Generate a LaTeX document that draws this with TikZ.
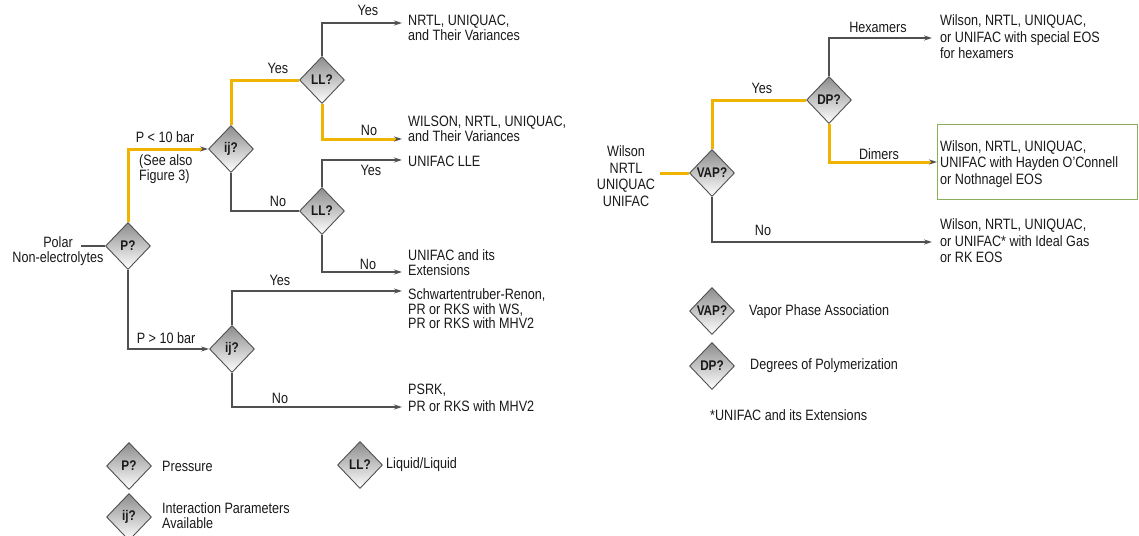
\documentclass[tikz,border=0pt]{standalone}
\usepackage{fontspec}
\setmainfont{Liberation Sans}[FakeStretch=0.84]
\usetikzlibrary{shapes.geometric,arrows.meta}
\definecolor{linegray}{RGB}{80,80,80}
\definecolor{flowyellow}{RGB}{240,180,0}
\definecolor{boxgreen}{RGB}{140,175,90}
\definecolor{txt}{RGB}{25,25,25}
\definecolor{dtop}{RGB}{140,140,140}
\begin{document}
\begin{tikzpicture}[x=1pt,y=-1pt,
  font=\fontsize{15}{15}\selectfont, text=txt,
  dec/.style={diamond, draw=linegray, line width=0.9pt, top color=dtop, bottom color=white,
    minimum width=45pt, minimum height=47pt, inner sep=0pt,
    font=\fontsize{14}{14}\selectfont\bfseries, text=txt},
  wire/.style={draw=linegray, line width=1.3pt},
  hot/.style={draw=flowyellow, line width=3pt},
  tip/.style={-{Stealth[length=8pt,width=5pt,color=linegray]}},
  lbl/.style={inner sep=0pt},
  res/.style={anchor=west, align=left, inner sep=0pt},
  tight/.style={font=\fontsize{15}{14.5}\selectfont},
  loose/.style={font=\fontsize{15}{16.5}\selectfont}]
\useasboundingbox (0,0) rectangle (1139,535);

% ---------- left tree: polar non-electrolytes ----------
\node[lbl, align=center] (src) at (58,251) {Polar\\Non-electrolytes};
\coordinate (srcend) at (81,246);
\node[dec] (P)   at (128,246) {P?};
\node[dec] (ij1) at (231,149) {ij?};
\node[dec] (ll1) at (322,80)  {LL?};
\node[dec] (ll2) at (322,211) {LL?};
\node[dec] (ij2) at (232,349) {ij?};

\coordinate (a1) at (402,23);
\coordinate (a2) at (402,139);
\coordinate (a3) at (402,160);
\coordinate (a4) at (402,272);
\coordinate (a5) at (402,291);
\coordinate (a6) at (402,407);

\node[res] (t1) at (408,28)    {NRTL, UNIQUAC,\\and Their Variances};
\node[res] (t2) at (408,128.5) {WILSON, NRTL, UNIQUAC,\\and Their Variances};
\node[res] (t3) at (408,161)   {UNIFAC LLE};
\node[res] (t4) at (408,263)   {UNIFAC and its\\Extensions};
\node[res, tight] (t5) at (408,309) {Schwartentruber-Renon,\\PR or RKS with WS,\\PR or RKS with MHV2};
\node[res, loose] (t6) at (408,398) {PSRK,\\PR or RKS with MHV2};

\draw[wire] (srcend) -- (P.west);
\draw[hot, tip] (P.north) |- (ij1.west);
\draw[hot] (ij1.north) |- (ll1.west);
\draw[wire, tip] (ll1.north) |- (a1);
\draw[hot, tip] (ll1.south) |- (a2);
\draw[wire] (ij1.south) |- (ll2.west);
\draw[wire, tip] (ll2.north) |- (a3);
\draw[wire, tip] (ll2.south) |- (a4);
\draw[wire, tip] (P.south) |- (ij2.west);
\draw[wire, tip] (ij2.north) |- (a5);
\draw[wire, tip] (ij2.south) |- (a6);

\node[lbl] (yes1) at (278,68)  {Yes};
\node[lbl] (no1)  at (278,201) {No};
\node[lbl] (yes2) at (368,10)  {Yes};
\node[lbl] (no2)  at (369,130) {No};
\node[lbl] (yes3) at (371,170) {Yes};
\node[lbl] (no3)  at (368,264) {No};
\node[lbl] (plo)  at (165,137) {P < 10 bar};
\node[res] (see)  at (139,169) {(See also\\Figure 3)};
\node[lbl] (phi)  at (166,338) {P > 10 bar};
\node[lbl] (yes4) at (280,280) {Yes};
\node[lbl] (no4)  at (280,398) {No};

% ---------- left legend ----------
\node[dec] (kP)  at (129,466) {P?};
\node[res] (kPt) at (162,466) {Pressure};
\node[dec] (kij) at (129,517) {ij?};
\node[res] (kijt) at (162,516) {Interaction Parameters\\Available};
\node[dec] (kll) at (360,465) {LL?};
\node[res] (kllt) at (386,465) {Liquid/Liquid};

% ---------- right tree: vapor phase association ----------
\node[lbl, align=center, loose] (src2) at (626,176) {Wilson\\NRTL\\UNIQUAC\\UNIFAC};
\coordinate (src2end) at (660,173);
\node[dec] (vap) at (712,173) {VAP?};
\node[dec] (dp)  at (829,100) {DP?};

\coordinate (b1) at (932,38);
\coordinate (b3) at (932,242);

\node[res, loose] (r1) at (940,37) {Wilson, NRTL, UNIQUAC,\\or UNIFAC with special EOS\\for hexamers};
\node[anchor=north west, draw=boxgreen, line width=1pt, minimum width=200pt, minimum height=75pt,
  inner sep=0pt] (frame) at (937,124) {};
\node[res, loose] (r2) at (940,164) {Wilson, NRTL, UNIQUAC,\\UNIFAC with Hayden O’Connell\\or Nothnagel EOS};
\node[res, loose] (r3) at (940,241) {Wilson, NRTL, UNIQUAC,\\or UNIFAC* with Ideal Gas\\or RK EOS};

\draw[hot] (src2end) -- (vap.west);
\draw[hot] (vap.north) |- (dp.west);
\draw[wire, tip] (dp.north) |- (b1);
\draw[hot, tip] (dp.south) |- (frame.west);
\draw[wire, tip] (vap.south) |- (b3);

\node[lbl] (yes5) at (762,88)  {Yes};
\node[lbl] (hex)  at (878,27)  {Hexamers};
\node[lbl] (dim)  at (879,154) {Dimers};
\node[lbl] (no5)  at (763,230) {No};

% ---------- right legend ----------
\node[dec] (kvap) at (712,311) {VAP?};
\node[res] (kvapt) at (749,312) {Vapor Phase Association};
\node[dec] (kdp) at (712,366) {DP?};
\node[res] (kdpt) at (750,366) {Degrees of Polymerization};
\node[res] (note) at (710,415) {*UNIFAC and its Extensions};
\end{tikzpicture}
\end{document}
